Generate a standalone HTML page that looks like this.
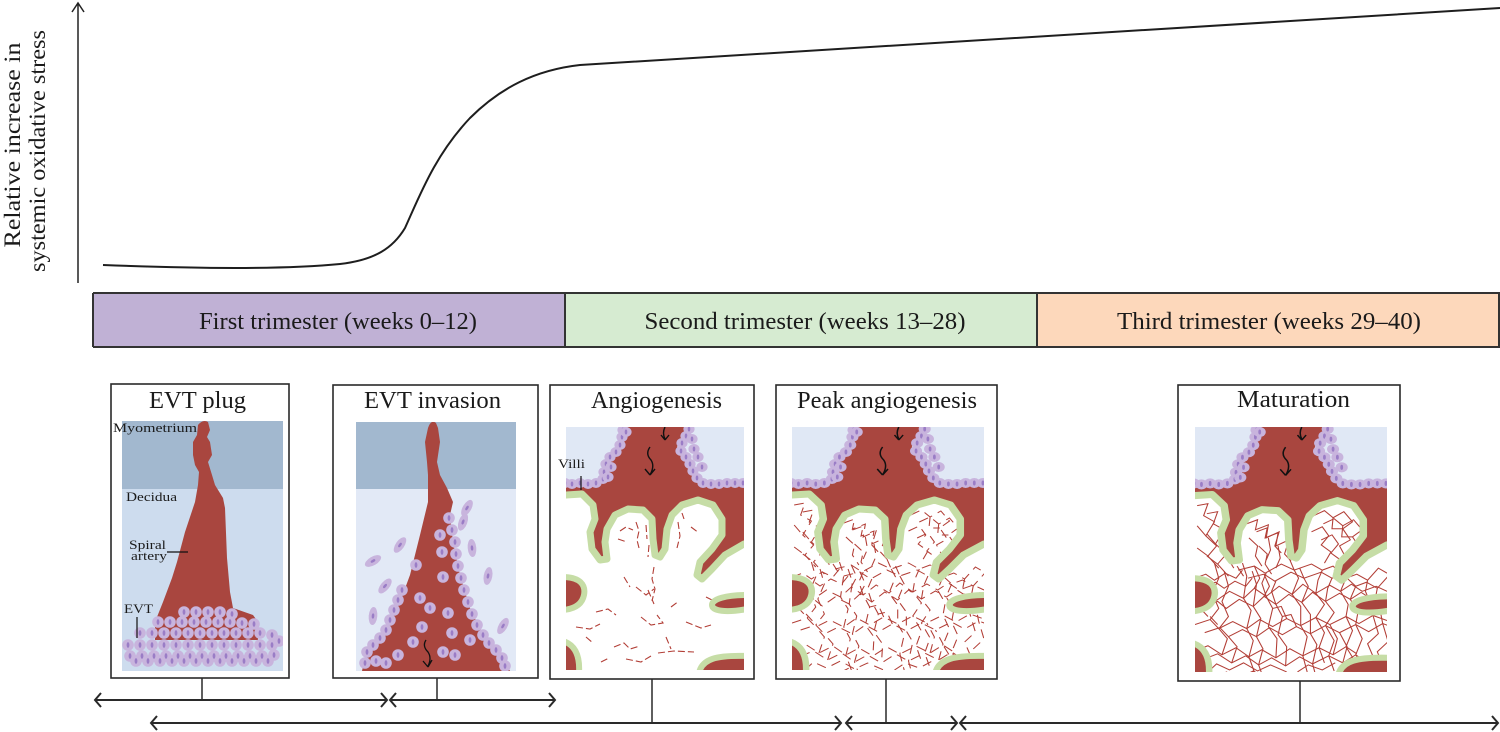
<!DOCTYPE html>
<html><head><meta charset="utf-8">
<style>
html,body{margin:0;padding:0;background:#fff;}
svg{display:block;}
text{font-family:"Liberation Serif",serif;fill:#1a1a1a;}
</style></head><body>
<svg width="1500" height="732" viewBox="0 0 1500 732" xmlns="http://www.w3.org/2000/svg" xmlns:xlink="http://www.w3.org/1999/xlink">
<defs>
 <clipPath id="c1"><rect x="122" y="421" width="161" height="250"/></clipPath>
 <clipPath id="c2"><rect x="356" y="422" width="160" height="249"/></clipPath>
 <clipPath id="c3"><rect x="566" y="427" width="178" height="243"/></clipPath>
 <clipPath id="c4"><rect x="792" y="427" width="192" height="243"/></clipPath>
 <clipPath id="c5"><rect x="1195" y="427" width="192" height="245"/></clipPath>
 <g id="cl"><circle r="5.8" fill="#c8b4dd"/><ellipse rx="1.4" ry="2.9" fill="#9a7dc6"/></g>
 <g id="cs"><ellipse rx="5.6" ry="5" fill="#c8b4dd"/><ellipse rx="1.3" ry="2.5" fill="#9a7dc6"/></g>
 <g id="ce"><ellipse rx="4.3" ry="9" fill="#c8b4dd"/><ellipse rx="1.3" ry="2.6" fill="#9a7dc6"/></g>

 <g id="vbg">
  <rect x="0" y="0" width="178" height="243" fill="#fff"/>
  <rect x="0" y="0" width="178" height="58" fill="#e0e8f5"/>
 </g>
 <g id="vred">
  <path d="M0,55 L37,55 L38,36 L51,26 L56,0 L124,0 L111,20 L124,36 L137,56 L178,55 L178,117 L159,128 L146,142 L136,152 L131,148 L134,135 L146,122 L156,108 L156,92 L147,78 L132,73 L116,78 L106,88 L101,102 L99,122 L94,130 L89,128 L87,112 L86,92 L77,83 L62,82 L49,88 L41,102 L39,115 L41,132 L34,133 L26,122 L24,105 L29,92 L27,78 L16,67 L0,68 Z" fill="#a9463f"/>
  <polyline points="0,68 16,67 27,78 29,92 24,105 26,122 34,133 41,132 39,115 41,102 49,88 62,82 77,83 86,92 87,112 89,128 94,130 99,122 101,102 106,88 116,78 132,73 147,78 156,92 156,108 146,122 134,135 131,148 136,152 146,142 159,128 178,117" fill="none" stroke="#c6dda6" stroke-width="7" stroke-linejoin="round" stroke-linecap="round"/>
 </g>

 <g id="vtop">
  <g fill="#a9463f" stroke="#c6dda6" stroke-width="6">
   <path d="M-3,150 C14,150 20,158 18,168 C16,178 8,182 -3,183 Z"/>
   <path d="M-3,214 C10,218 14,230 13,246 L-3,246 Z"/>
   <path d="M181,168 C160,168 146,172 146,178 C146,184 160,186 181,182 Z"/>
   <path d="M133,246 C136,232 150,228 181,229 L181,246 Z"/>
  </g>
  <g>
   <use href="#cs" x="57" y="3"/><use href="#cs" x="56" y="10"/><use href="#cs" x="54" y="18"/><use href="#cs" x="50" y="25"/><use href="#cs" x="44" y="30"/><use href="#cs" x="40" y="37"/><use href="#cs" x="38" y="45"/><use href="#cs" x="37" y="52"/><use href="#cs" x="30" y="56"/><use href="#cs" x="22" y="57"/><use href="#cs" x="14" y="56"/><use href="#cs" x="6" y="57"/><use href="#cs" x="-1" y="56"/><use href="#cs" x="45" y="40"/><use href="#cs" x="42" y="50"/><use href="#cs" x="60" y="5"/>
   <use href="#cs" x="123" y="2"/><use href="#cs" x="120" y="9"/><use href="#cs" x="116" y="16"/><use href="#cs" x="115" y="24"/><use href="#cs" x="120" y="30"/><use href="#cs" x="124" y="37"/><use href="#cs" x="127" y="44"/><use href="#cs" x="131" y="51"/><use href="#cs" x="137" y="56"/><use href="#cs" x="145" y="57"/><use href="#cs" x="153" y="57"/><use href="#cs" x="161" y="56"/><use href="#cs" x="169" y="56"/><use href="#cs" x="177" y="56"/><use href="#cs" x="128" y="22"/><use href="#cs" x="132" y="30"/><use href="#cs" x="136" y="40"/><use href="#cs" x="126" y="12"/>
  </g>
  <path d="M99,0 q-3,6 0,12 M99,13 l-4,-5 M99,13 l4,-5 M84,20 q-5,7 1,13 q4,6 -1,15 M84,48 l-5,-6 M84,48 l5,-6" fill="none" stroke="#111" stroke-width="1.4"/>
 </g>

 <g id="net">
  <path d="M0,150 L10,146 L18,152 L28,145 L38,150 L44,142"/>
  <path d="M0,170 L12,165 L20,172 L32,163 L45,170 L55,160 L66,168 L78,158 L90,166 L100,156 L112,165 L125,157 L135,163 L145,156 L155,163 L168,158 L178,163"/>
  <path d="M0,196 L14,191 L22,200 L35,193 L48,200 L60,191 L72,198 L85,190 L98,197 L112,189 L125,196 L140,188 L152,195 L165,187 L178,192"/>
  <path d="M0,222 L12,217 L25,226 L38,219 L50,228 L62,221 L75,229 L88,220 L100,227 L115,219 L128,226 L140,218 L150,225"/>
  <path d="M12,243 L20,235 L32,241 L45,234 L58,242 L70,236 L85,243 M95,243 L105,236 L118,241 L130,234"/>
  <path d="M40,142 L55,138 L65,145 L80,136 L92,142 L108,136 L118,142 L128,138 L140,150 L150,146 L160,152 L170,140 L178,145"/>
  <path d="M18,135 L22,150 L16,165 L22,180 L14,191"/>
  <path d="M44,135 L48,148 L45,170 L52,182 L48,200 L54,212 L50,228 L55,243"/>
  <path d="M66,145 L62,155 L66,168 L72,180 L68,198 L76,210 L75,229"/>
  <path d="M92,142 L96,150 L90,166 L98,178 L98,197 L104,208 L100,227 L104,243"/>
  <path d="M118,142 L114,152 L112,165 L120,176 L112,189 L120,204 L115,219 L120,234"/>
  <path d="M140,150 L136,160 L135,163 L142,176 L140,188 L146,202 L140,218 L148,232"/>
  <path d="M160,152 L158,163 L163,176 L165,187 L170,205 L160,215 L166,230 L158,243"/>
  <path d="M25,226 L30,210 L22,200 M85,190 L80,178 L72,180 M128,226 L132,210 L125,196 M55,160 L60,150 L55,138"/>
  <path d="M2,78 L12,76 L8,88 L18,94 L10,108 L20,118 L12,128 L22,140 M2,98 L10,108 M2,120 L12,128"/>
  <path d="M48,96 L58,92 L56,102 L68,97 L66,110 L78,104 L74,118 L80,125 M50,110 L58,118 L56,128 L62,138 M68,110 L70,122 L66,132"/>
  <path d="M110,88 L120,83 L128,90 L138,84 L146,94 L137,101 L144,112 L134,118 L138,126 M108,104 L118,99 L124,108 L117,117 L126,124 L120,135 M128,90 L127,101 L137,101"/>
  <path d="M30,130 L36,140 M88,132 L92,142 M5,180 L12,188 M170,172 L178,176 M150,236 L160,243"/>
 </g>
</defs>

<rect width="1500" height="732" fill="#fff"/>

<!-- Y axis -->
<path d="M78,283 L78,3 M72,12 L78,3 L84,12" fill="none" stroke="#222" stroke-width="1.5"/>
<text transform="translate(20,145) rotate(-90)" text-anchor="middle" font-size="23" textLength="205" lengthAdjust="spacingAndGlyphs">Relative increase in</text>
<text transform="translate(45,151) rotate(-90)" text-anchor="middle" font-size="23" textLength="242" lengthAdjust="spacingAndGlyphs">systemic oxidative stress</text>

<!-- Curve -->
<path d="M103,265 C180,268 280,270 340,264 C375,260 393,248 405,228 C420,195 435,155 470,118 C500,88 535,70 580,65 L1500,8" fill="none" stroke="#1e1e1e" stroke-width="2"/>

<!-- Trimester bar -->
<rect x="93" y="293" width="472" height="54" fill="#c0b1d5"/>
<rect x="565" y="293" width="472" height="54" fill="#d6ebd1"/>
<rect x="1037" y="293" width="463" height="54" fill="#fdd8bb"/>
<path d="M93,293 H1500 M93,347 H1500 M93,293 V347 M565,293 V347 M1037,293 V347 M1499,293 V347" fill="none" stroke="#333" stroke-width="2"/>
<text x="338" y="329" text-anchor="middle" font-size="24" textLength="278" lengthAdjust="spacingAndGlyphs">First trimester (weeks 0–12)</text>
<text x="805" y="329" text-anchor="middle" font-size="24" textLength="321" lengthAdjust="spacingAndGlyphs">Second trimester (weeks 13–28)</text>
<text x="1269" y="329" text-anchor="middle" font-size="24" textLength="304" lengthAdjust="spacingAndGlyphs">Third trimester (weeks 29–40)</text>

<!-- Panel frames -->
<g fill="#fff" stroke="#2a2a2a" stroke-width="1.6">
 <rect x="111" y="384" width="178" height="294"/>
 <rect x="333" y="385" width="205" height="293"/>
 <rect x="550" y="385" width="204" height="294"/>
 <rect x="776" y="385" width="221" height="294"/>
 <rect x="1178" y="385" width="222" height="296"/>
</g>
<text x="197.5" y="408" text-anchor="middle" font-size="24" textLength="97" lengthAdjust="spacingAndGlyphs">EVT plug</text>
<text x="432.5" y="408" text-anchor="middle" font-size="24" textLength="137" lengthAdjust="spacingAndGlyphs">EVT invasion</text>
<text x="656.5" y="408" text-anchor="middle" font-size="24" textLength="131" lengthAdjust="spacingAndGlyphs">Angiogenesis</text>
<text x="887" y="408" text-anchor="middle" font-size="24" textLength="180" lengthAdjust="spacingAndGlyphs">Peak angiogenesis</text>
<text x="1293.5" y="407" text-anchor="middle" font-size="24" textLength="113" lengthAdjust="spacingAndGlyphs">Maturation</text>

<!-- Panel 1 -->
<g clip-path="url(#c1)">
 <rect x="122" y="421" width="161" height="250" fill="#cddcee"/>
 <rect x="122" y="421" width="161" height="68" fill="#a2b8cf"/>
 <path d="M198,425 Q203,419 208,422 L210,430 L207,437 L210,442 L212,455 L208,462 L212,475 L215,485 L223,498 L225,508 L227,558 L230,592 L233,608 L253,615 L258,622 L258,640 L155,640 L155,622 L163,602 L172,578 L177,562 L185,532 L195,502 L198,485 L199,472 L195,465 L193,455 L193,442 L197,435 Z" fill="#a9463f"/>
 <g>
  <use href="#cl" x="184" y="612"/><use href="#cl" x="196" y="612"/><use href="#cl" x="208" y="612"/><use href="#cl" x="220" y="612"/><use href="#cl" x="232" y="614"/>
  <use href="#cl" x="158" y="622"/><use href="#cl" x="170" y="622"/><use href="#cl" x="182" y="622"/><use href="#cl" x="194" y="622"/><use href="#cl" x="206" y="622"/><use href="#cl" x="218" y="622"/><use href="#cl" x="230" y="622"/><use href="#cl" x="242" y="623"/><use href="#cl" x="254" y="624"/>
  <use href="#cl" x="140" y="633"/><use href="#cl" x="152" y="633"/><use href="#cl" x="164" y="633"/><use href="#cl" x="176" y="633"/><use href="#cl" x="188" y="633"/><use href="#cl" x="200" y="633"/><use href="#cl" x="212" y="633"/><use href="#cl" x="224" y="633"/><use href="#cl" x="236" y="633"/><use href="#cl" x="248" y="633"/><use href="#cl" x="260" y="633"/><use href="#cl" x="272" y="635"/>
  <use href="#cl" x="128" y="645"/><use href="#cl" x="140" y="645"/><use href="#cl" x="152" y="645"/><use href="#cl" x="164" y="645"/><use href="#cl" x="176" y="645"/><use href="#cl" x="188" y="645"/><use href="#cl" x="200" y="645"/><use href="#cl" x="212" y="645"/><use href="#cl" x="224" y="645"/><use href="#cl" x="236" y="645"/><use href="#cl" x="248" y="645"/><use href="#cl" x="260" y="645"/><use href="#cl" x="272" y="645"/><use href="#cl" x="279" y="641"/>
  <use href="#cl" x="130" y="656"/><use href="#cl" x="142" y="656"/><use href="#cl" x="154" y="656"/><use href="#cl" x="166" y="656"/><use href="#cl" x="178" y="656"/><use href="#cl" x="190" y="656"/><use href="#cl" x="202" y="656"/><use href="#cl" x="214" y="656"/><use href="#cl" x="226" y="656"/><use href="#cl" x="238" y="656"/><use href="#cl" x="250" y="656"/><use href="#cl" x="262" y="656"/><use href="#cl" x="274" y="655"/>
  <use href="#cl" x="136" y="661"/><use href="#cl" x="148" y="661"/><use href="#cl" x="160" y="661"/><use href="#cl" x="172" y="661"/><use href="#cl" x="184" y="661"/><use href="#cl" x="196" y="661"/><use href="#cl" x="208" y="661"/><use href="#cl" x="220" y="661"/><use href="#cl" x="232" y="661"/><use href="#cl" x="244" y="661"/><use href="#cl" x="256" y="661"/><use href="#cl" x="268" y="661"/>
 </g>
</g>
<text x="113" y="432" font-size="13" textLength="84" lengthAdjust="spacingAndGlyphs">Myometrium</text>
<text x="126" y="501" font-size="13" textLength="51" lengthAdjust="spacingAndGlyphs">Decidua</text>
<text x="129" y="549" font-size="13" textLength="37" lengthAdjust="spacingAndGlyphs">Spiral</text>
<text x="131" y="560" font-size="13" textLength="36" lengthAdjust="spacingAndGlyphs">artery</text>
<text x="124" y="613" font-size="13" textLength="29" lengthAdjust="spacingAndGlyphs">EVT</text>
<path d="M167,552 H188 M137,617 V638" stroke="#111" stroke-width="1.2" fill="none"/>

<!-- Panel 2 -->
<g clip-path="url(#c2)">
 <rect x="356" y="422" width="160" height="249" fill="#e2e9f6"/>
 <rect x="356" y="422" width="160" height="67" fill="#a2b8cf"/>
 <path d="M428,428 Q431,419 436,423 L438,428 L440,442 L437,462 L440,475 L447,488 L453,502 L450,515 L453,542 L460,575 L470,608 L483,635 L500,652 L510,671 L362,671 L367,648 L387,628 L400,602 L410,575 L420,535 L428,502 L428,475 L427,462 L425,442 Z" fill="#a9463f"/>
 <g>
  <use href="#ce" transform="translate(467,508) rotate(30)"/>
  <use href="#ce" transform="translate(463,522) rotate(20)"/>
  <use href="#ce" transform="translate(472,548) rotate(-5)"/>
  <use href="#ce" transform="translate(488,576) rotate(10)"/>
  <use href="#ce" transform="translate(400,545) rotate(35)"/>
  <use href="#ce" transform="translate(373,561) rotate(60)"/>
  <use href="#ce" transform="translate(385,586) rotate(40)"/>
  <use href="#ce" transform="translate(373,616) rotate(5)"/>
  <use href="#ce" transform="translate(503,626) rotate(30)"/>
  <use href="#cl" x="449" y="518"/><use href="#cl" x="452" y="530"/><use href="#cl" x="455" y="542"/><use href="#cl" x="456" y="554"/><use href="#cl" x="458" y="566"/><use href="#cl" x="461" y="578"/><use href="#cl" x="464" y="590"/><use href="#cl" x="468" y="602"/><use href="#cl" x="472" y="614"/><use href="#cl" x="477" y="625"/><use href="#cl" x="483" y="635"/><use href="#cl" x="489" y="643"/><use href="#cl" x="496" y="650"/><use href="#cl" x="502" y="658"/><use href="#cl" x="505" y="666"/>
  <use href="#cl" x="402" y="590"/><use href="#cl" x="398" y="600"/><use href="#cl" x="394" y="610"/><use href="#cl" x="390" y="620"/><use href="#cl" x="386" y="630"/><use href="#cl" x="380" y="638"/><use href="#cl" x="373" y="645"/><use href="#cl" x="367" y="652"/><use href="#cl" x="365" y="663"/><use href="#cl" x="376" y="661"/><use href="#cl" x="386" y="663"/>
  <use href="#cl" x="416" y="565"/><use href="#cl" x="442" y="552"/><use href="#cl" x="443" y="577"/><use href="#cl" x="430" y="608"/><use href="#cl" x="448" y="613"/><use href="#cl" x="422" y="627"/><use href="#cl" x="452" y="633"/><use href="#cl" x="443" y="652"/><use href="#cl" x="413" y="642"/><use href="#cl" x="398" y="655"/><use href="#cl" x="440" y="535"/><use href="#cl" x="420" y="598"/><use href="#cl" x="455" y="655"/><use href="#cl" x="470" y="640"/>
 </g>
 <path d="M426,640 q-4,6 2,12 q4,6 0,14 M428,667 l-5,-6 M428,667 l4,-7" fill="none" stroke="#111" stroke-width="1.3"/>
</g>

<!-- Panel 3 -->
<g clip-path="url(#c3)">
 <g transform="translate(566,427)">
  <use href="#vbg"/>
  <path d="M54,104 l6,-4 l7,3 M52,112 l9,3 M70,95 l3,9 l-2,9 l2,8 M80,98 l1,14 M83,118 l-1,12 M88,140 l-2,12 l3,10 l-3,12 M70,160 l10,8 l8,-6 M82,163 l6,14 M112,95 l2,14 l-3,12 M118,92 l-2,-6 M30,185 l12,-3 l8,6 M10,200 l14,2 l10,-5 M75,190 l10,8 l12,-2 l-6,-8 M120,195 l15,6 l10,-3 M48,220 l10,-4 l6,6 l10,-3 M60,232 l15,3 l10,-6 M92,226 l16,-2 l20,1 M100,210 l5,12 M35,235 l8,-4 M20,210 l7,6 M105,180 l8,-6 M140,170 l8,4 M125,100 l8,6 M58,150 l6,10" fill="none" stroke="#b23e36" stroke-width="1.1" stroke-dasharray="7 3"/>
  <use href="#vred"/>
  <use href="#vtop"/>
 </g>
</g>
<text x="558" y="468" font-size="13" textLength="27" lengthAdjust="spacingAndGlyphs">Villi</text>
<path d="M581,476 V490" stroke="#111" stroke-width="1.2"/>

<!-- Panel 4 -->
<g clip-path="url(#c4)">
 <g transform="translate(792,427) scale(1.0787,1)">
  <use href="#vbg"/>
  <g fill="none" stroke="#b23e36" stroke-width="1" stroke-dasharray="9 6">
   <use href="#net"/>
   <use href="#net" transform="translate(8,7)"/>
  </g>
  <use href="#vred"/>
  <use href="#vtop"/>
 </g>
</g>

<!-- Panel 5 -->
<g clip-path="url(#c5)">
 <g transform="translate(1195,427) scale(1.0787,1.008)">
  <use href="#vbg"/>
  <g fill="none" stroke="#b23e36" stroke-width="1">
   <use href="#net"/>
   <use href="#net" transform="translate(9,8)"/>
  </g>
  <use href="#vred"/>
  <use href="#vtop"/>
 </g>
</g>

<!-- Connectors and timeline arrows -->
<g fill="none" stroke="#2a2a2a" stroke-width="1.5">
 <path d="M202,678 V700 M437,678 V700 M652,679 V723 M886,679 V723 M1300,681 V723"/>
</g>
<g fill="none" stroke="#2a2a2a" stroke-width="2">
 <path d="M95,700 H387 M101,693 L95,700 L101,707 M381,693 L387,700 L381,707"/>
 <path d="M390,700 H555 M396,693 L390,700 L396,707 M549,693 L555,700 L549,707"/>
 <path d="M151,723 H841 M157,716 L151,723 L157,730 M835,716 L841,723 L835,730"/>
 <path d="M846,723 H957 M852,716 L846,723 L852,730 M951,716 L957,723 L951,730"/>
 <path d="M960,723 H1498 M966,716 L960,723 L966,730 M1492,716 L1498,723 L1492,730"/>
</g>
</svg>
</body></html>
